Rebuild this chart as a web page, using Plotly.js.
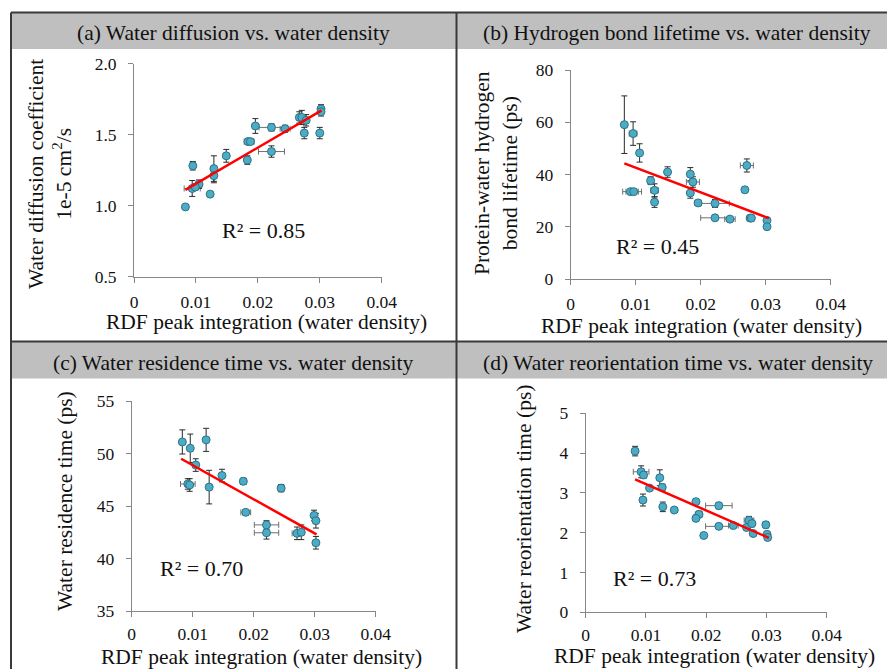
<!DOCTYPE html>
<html>
<head>
<meta charset="utf-8">
<script src="https://cdn.plot.ly/plotly-3.0.1.min.js"></script>
<style>
  html, body { margin: 0; padding: 0; background: #fff; }
  #chart { width: 887px; height: 669px; }
</style>
</head>
<body>
<div id="chart"></div>
<script>
// (a) water diffusion coefficient (1e-5 cm^2/s) vs RDF peak integration
const aX    = [0.0083, 0.0095, 0.0094, 0.0105, 0.0099, 0.0123, 0.0129, 0.0129, 0.0149, 0.0183, 0.0184, 0.0188, 0.0196, 0.0222, 0.0222, 0.0244, 0.0267, 0.0271, 0.0278, 0.0275, 0.0300, 0.0302, 0.0302];
const aY    = [0.99, 1.28, 1.12, 1.15, 1.13, 1.08, 1.26, 1.21, 1.35, 1.32, 1.45, 1.45, 1.56, 1.55, 1.38, 1.54, 1.62, 1.62, 1.60, 1.51, 1.51, 1.68, 1.66];
const aYerr = [0.015, 0.03, 0.056, 0.03, 0.02, 0.015, 0.09, 0.05, 0.045, 0.03, 0.015, 0.015, 0.052, 0.025, 0.04, 0.025, 0.04, 0.05, 0.04, 0.04, 0.04, 0.03, 0.03];
const aXerr = [0.0003, 0.0003, 0.0013, 0.0005, 0, 0.0004, 0, 0, 0, 0, 0.0006, 0.0006, 0, 0.002, 0.0021, 0.0008, 0, 0.0007, 0, 0, 0, 0, 0];
const aFitX = [0.0083, 0.0303];
const aFitY = [1.11, 1.67];

// (b) protein-water hydrogen bond lifetime (ps)
const bX    = [0.00825, 0.0096, 0.0106, 0.0092, 0.0097, 0.0123, 0.0129, 0.0129, 0.0149, 0.0184, 0.0188, 0.0184, 0.0196, 0.0222, 0.0222, 0.0245, 0.0268, 0.0271, 0.0276, 0.0278, 0.0302, 0.0302];
const bY    = [59.1, 55.7, 48.3, 33.5, 33.5, 37.7, 34.0, 29.5, 41.0, 40.2, 37.2, 33.0, 29.2, 29.0, 23.5, 23.0, 34.2, 43.5, 23.4, 23.4, 22.5, 20.1];
const bYerr = [11, 4.5, 3.5, 0.5, 0.5, 1.5, 2.5, 2, 2, 2.5, 2, 2, 1, 1.5, 0.7, 1, 0.5, 2.5, 1, 1, 1, 1];
const bXerr = [0, 0.0006, 0, 0.0012, 0.0012, 0, 0.0006, 0, 0, 0, 0.001, 0, 0.0005, 0.0022, 0.0022, 0.0008, 0.0004, 0.001, 0, 0, 0, 0];
const bFitX = [0.00825, 0.0305];
const bFitY = [44.3, 23.3];

// (c) water residence time (ps)
const cX    = [0.0083, 0.0096, 0.0105, 0.0092, 0.0095, 0.0122, 0.0127, 0.0148, 0.0183, 0.0187, 0.0221, 0.0221, 0.0245, 0.0271, 0.0278, 0.0299, 0.0302, 0.0302];
const cY    = [51.1, 50.5, 48.9, 47.1, 47.0, 51.3, 46.8, 47.9, 47.35, 44.4, 43.2, 42.45, 46.7, 42.4, 42.5, 44.1, 43.6, 41.5];
const cYerr = [1.15, 1.35, 0.6, 0.5, 0.6, 1.1, 1.6, 0.6, 0.3, 0.25, 0.4, 0.6, 0.35, 0.6, 0.7, 0.5, 0.7, 0.6];
const cXerr = [0, 0, 0, 0.0012, 0.0005, 0, 0, 0, 0.0005, 0.0008, 0.002, 0.002, 0.0005, 0.0008, 0, 0, 0, 0];
const cFitX = [0.0081, 0.0303];
const cFitY = [49.5, 42.3];

// (d) water reorientation time (ps)
const dX    = [0.0082, 0.0092, 0.0096, 0.0095, 0.0106, 0.0123, 0.0127, 0.0128, 0.0147, 0.0183, 0.0188, 0.0183, 0.0196, 0.0221, 0.0221, 0.0245, 0.0267, 0.0271, 0.0276, 0.0278, 0.0299, 0.0301, 0.0302];
const dY    = [4.05, 3.53, 3.45, 2.82, 3.12, 3.38, 3.14, 2.65, 2.57, 2.78, 2.46, 2.36, 1.93, 2.68, 2.16, 2.18, 2.13, 2.31, 2.23, 1.98, 2.20, 1.96, 1.88];
const dYerr = [0.12, 0.15, 0.08, 0.15, 0.05, 0.2, 0.08, 0.12, 0.05, 0.07, 0.08, 0.08, 0.05, 0.08, 0.05, 0.05, 0.05, 0.1, 0.08, 0.05, 0.08, 0.07, 0.05];
const dXerr = [0, 0.0013, 0, 0, 0, 0, 0, 0, 0, 0, 0.0006, 0, 0, 0.0022, 0.0022, 0.0008, 0, 0.0008, 0, 0, 0, 0, 0];
const dFitX = [0.0082, 0.0304];
const dFitY = [3.34, 1.87];

const xTickVals = [0, 0.01, 0.02, 0.03, 0.04];
const xTickText = ['0', '0.01', '0.02', '0.03', '0.04'];

const W = 887, H = 669;
const px = v => v / W;          // pixel -> paper x
const py = v => 1 - v / H;      // pixel -> paper y

const SERIF = 'Liberation Serif';
const MARK = '#4bacc6', MARK_EDGE = '#2f7286', FIT = '#ff0000';

function scatter(x, y, yerr, xerr, xa, ya) {
  return {
    type: 'scatter', mode: 'markers', x: x, y: y, xaxis: xa, yaxis: ya,
    marker: { size: 8, color: MARK, line: { color: MARK_EDGE, width: 1 } },
    error_y: { type: 'data', array: yerr, visible: true, color: '#2a2a2a', thickness: 1, width: 3 },
    error_x: { type: 'data', array: xerr, visible: true, color: '#6f6f6f', thickness: 1, width: 3 },
    hoverinfo: 'x+y', showlegend: false
  };
}
function fit(x, y, xa, ya) {
  return {
    type: 'scatter', mode: 'lines', x: x, y: y, xaxis: xa, yaxis: ya,
    line: { color: FIT, width: 2.5 }, hoverinfo: 'skip', showlegend: false
  };
}

const data = [
  scatter(aX, aY, aYerr, aXerr, 'x', 'y'),  fit(aFitX, aFitY, 'x', 'y'),
  scatter(bX, bY, bYerr, bXerr, 'x2', 'y2'), fit(bFitX, bFitY, 'x2', 'y2'),
  scatter(cX, cY, cYerr, cXerr, 'x3', 'y3'), fit(cFitX, cFitY, 'x3', 'y3'),
  scatter(dX, dY, dYerr, dXerr, 'x4', 'y4'), fit(dFitX, dFitY, 'x4', 'y4')
];

const AXC = '#878787';
function xAxis(dom, anchor, standoff) {
  return {
    domain: dom, anchor: anchor, range: [0, 0.04], tickvals: xTickVals, ticktext: xTickText,
    showgrid: false, zeroline: false, showline: true, linecolor: AXC, linewidth: 1,
    ticks: 'outside', ticklen: 5, tickcolor: AXC, ticklabelstandoff: standoff,
    tickfont: { family: SERIF, size: 17.5, color: '#111' }, fixedrange: true
  };
}
function yAxis(dom, anchor, range, dtick, fmt) {
  return {
    domain: dom, anchor: anchor, range: range, dtick: dtick, tick0: range[0], tickformat: fmt,
    showgrid: false, zeroline: false, showline: true, linecolor: AXC, linewidth: 1,
    ticks: 'outside', ticklen: 5, tickcolor: AXC, ticklabelstandoff: 8,
    tickfont: { family: SERIF, size: 17.5, color: '#111' }, fixedrange: true
  };
}

function ann(text, x, y, size, angle) {
  return {
    text: text, xref: 'paper', yref: 'paper', x: px(x), y: py(y),
    xanchor: 'center', yanchor: 'middle', showarrow: false, textangle: angle || 0,
    borderpad: 0, font: { family: SERIF, size: size, color: '#111' }
  };
}

const BORDER = '#3a3a3a';
const shapes = [
  // grey panel headers
  { type: 'rect', xref: 'paper', yref: 'paper', x0: px(11), x1: 1, y0: py(49), y1: py(13), fillcolor: '#bfbfbf', line: { width: 0 } },
  { type: 'rect', xref: 'paper', yref: 'paper', x0: px(11), x1: 1, y0: py(378.5), y1: py(342), fillcolor: '#bfbfbf', line: { width: 0 } },
  // frame and dividers
  { type: 'line', xref: 'paper', yref: 'paper', x0: px(11), x1: 1, y0: py(12.5), y1: py(12.5), line: { color: BORDER, width: 2 } },
  { type: 'line', xref: 'paper', yref: 'paper', x0: px(11), x1: px(11), y0: py(12.5), y1: 0, line: { color: BORDER, width: 2 } },
  { type: 'line', xref: 'paper', yref: 'paper', x0: px(456.5), x1: px(456.5), y0: py(12.5), y1: 0, line: { color: BORDER, width: 2 } },
  { type: 'line', xref: 'paper', yref: 'paper', x0: px(11), x1: 1, y0: py(341.5), y1: py(341.5), line: { color: BORDER, width: 2 } }
];

const annotations = [
  ann('(a) Water diffusion vs. water density', 233, 33, 21.5),
  ann('(b) Hydrogen bond lifetime vs. water density', 677, 33, 21.5),
  ann('(c) Water residence time vs. water density', 233, 363, 21.5),
  ann('(d) Water reorientation time vs. water density', 677.5, 363, 21.5),

  ann('Water diffusion coefficient<br>1e-5 cm<sup>2</sup>/s', 50, 174, 21.5, -90),
  ann('Protein-water hydrogen<br>bond lifetime (ps)', 496.5, 172.5, 21.5, -90),
  ann('Water residence time (ps)', 65, 501, 21.5, -90),
  ann('Water reorientation time (ps)', 524, 509, 21.5, -90),

  ann('RDF peak integration (water density)', 266, 322, 21.5),
  ann('RDF peak integration (water density)', 701, 325.5, 21.5),
  ann('RDF peak integration (water density)', 261, 656.5, 21.5),
  ann('RDF peak integration (water density)', 714, 656, 21.5),

  ann('R² = 0.85', 263, 230, 22),
  ann('R² = 0.45', 657, 246.5, 22),
  ann('R² = 0.70', 201.5, 568, 22),
  ann('R² = 0.73', 654.5, 578, 22)
];

const layout = {
  width: W, height: H, margin: { l: 0, r: 0, t: 0, b: 0 },
  paper_bgcolor: '#ffffff', plot_bgcolor: 'rgba(0,0,0,0)', showlegend: false,
  font: { family: SERIF },
  xaxis:  xAxis([px(134), px(381.7)], 'y', 4),
  yaxis:  yAxis([py(276.5), py(63.5)], 'x', [0.5, 2.0], 0.5, '.1f'),
  xaxis2: xAxis([px(570.7), px(830.7)], 'y2', 4),
  yaxis2: yAxis([py(279.3), py(70)], 'x2', [0, 80], 20, 'd'),
  xaxis3: xAxis([px(131.7), px(375.7)], 'y3', 2),
  yaxis3: yAxis([py(611), py(401)], 'x3', [35, 55], 5, 'd'),
  xaxis4: xAxis([px(585.7), px(826.7)], 'y4', 2),
  yaxis4: yAxis([py(612.3), py(413.3)], 'x4', [0, 5], 1, 'd'),
  shapes: shapes, annotations: annotations
};

Plotly.newPlot('chart', data, layout, { displayModeBar: false, staticPlot: true });
</script>
</body>
</html>
